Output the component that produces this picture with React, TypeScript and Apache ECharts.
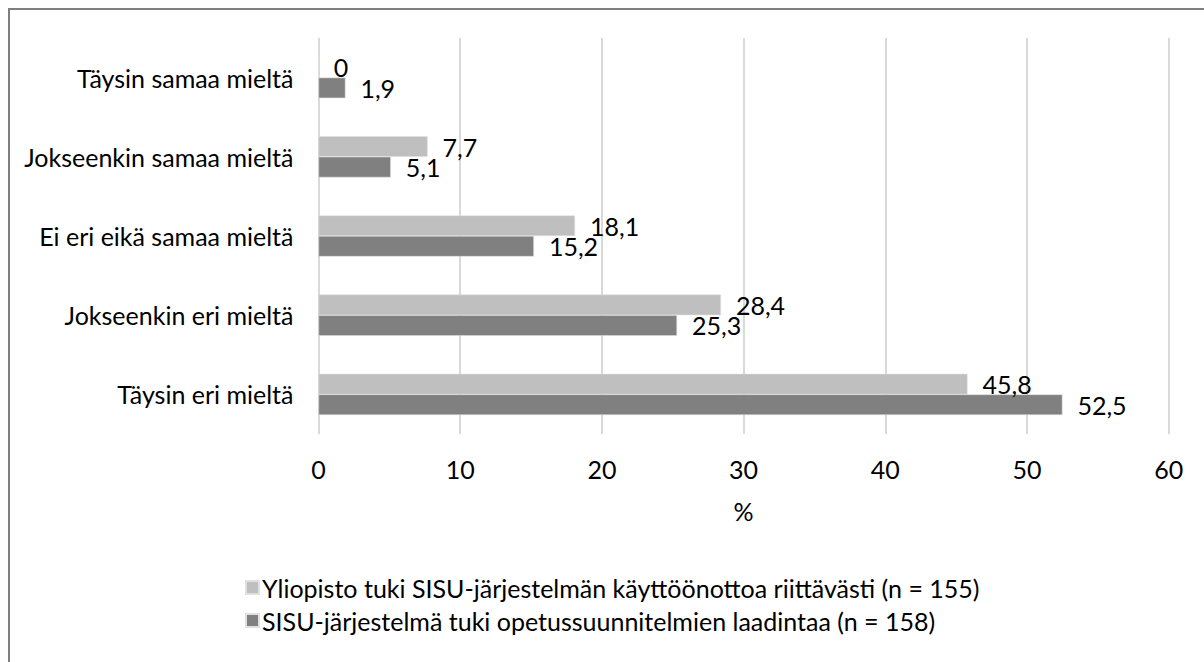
import React, { useEffect, useRef } from "react";
import * as echarts from "echarts";

const categories = [
  "Täysin eri mieltä",
  "Jokseenkin eri mieltä",
  "Ei eri eikä samaa mieltä",
  "Jokseenkin samaa mieltä",
  "Täysin samaa mieltä",
];
const seriesLightName = "Yliopisto tuki SISU-järjestelmän käyttöönottoa riittävästi (n = 155)";
const seriesDarkName = "SISU-järjestelmä tuki opetussuunnitelmien laadintaa (n = 158)";
const seriesLight = [45.8, 28.4, 18.1, 7.7, 0];
const seriesDark = [52.5, 25.3, 15.2, 5.1, 1.9];
const xTicks = { min: 0, max: 60, interval: 10 };
const xTitle = "%";

const FONT = "Lato";
const FS = 25;

export default function App() {
  const ref = useRef<HTMLDivElement>(null);
  useEffect(() => {
    if (!ref.current) return;
    const chart = echarts.init(ref.current, undefined, { renderer: "svg" });
    const fmt = (p: any) => String(p.value).replace(".", ",");
    const labelCfg = {
      show: true,
      position: "right",
      distance: 15,
      color: "#000",
      fontSize: FS,
      fontFamily: FONT,
      formatter: fmt,
    };
    chart.setOption({
      animation: false,
      textStyle: { fontFamily: FONT },
      grid: { left: 318.5, right: 35.3, top: 38, bottom: 228, containLabel: false },
      graphic: [
        {
          type: "rect",
          shape: { x: 9, y: 9, width: 1300, height: 800 },
          style: { fill: "none", stroke: "#7f7f7f", lineWidth: 2 },
          silent: true,
        },
      ],
      legend: {
        orient: "vertical",
        left: 240,
        top: 570,
        itemWidth: 13,
        itemHeight: 13,
        itemGap: 8,
        icon: "rect",
        data: [seriesLightName, seriesDarkName],
        textStyle: { fontSize: FS, fontFamily: FONT, color: "#000", padding: [0, 0, 0, -2] },
      },
      xAxis: {
        type: "value",
        min: xTicks.min,
        max: xTicks.max,
        interval: xTicks.interval,
        name: xTitle,
        nameLocation: "middle",
        nameGap: 64,
        nameTextStyle: { fontSize: FS, fontFamily: FONT, color: "#000" },
        axisLine: { show: false },
        axisTick: { show: false },
        axisLabel: { fontSize: FS, fontFamily: FONT, color: "#000", margin: 22 },
        splitLine: { show: true, lineStyle: { color: "#d9d9d9", width: 2 } },
      },
      yAxis: {
        type: "category",
        data: categories,
        axisLine: { show: false },
        axisTick: { show: false },
        axisLabel: { fontSize: FS, fontFamily: FONT, color: "#000", margin: 25 },
        splitLine: { show: false },
      },
      series: [
        {
          name: seriesLightName,
          type: "bar",
          data: seriesLight,
          barGap: "0%",
          barCategoryGap: "48%",
          itemStyle: { color: "#bfbfbf", borderColor: "#e0e0e0", borderWidth: 0.5 },
          label: labelCfg,
        },
        {
          name: seriesDarkName,
          type: "bar",
          data: seriesDark,
          barGap: "0%",
          barCategoryGap: "48%",
          itemStyle: { color: "#808080", borderColor: "#e0e0e0", borderWidth: 0.5 },
          label: labelCfg,
        },
      ],
    });
    return () => chart.dispose();
  }, []);
  return (
    <div
      ref={ref}
      style={{ position: "absolute", left: 0, top: 0, width: 1204, height: 662, background: "#fff" }}
    />
  );
}
